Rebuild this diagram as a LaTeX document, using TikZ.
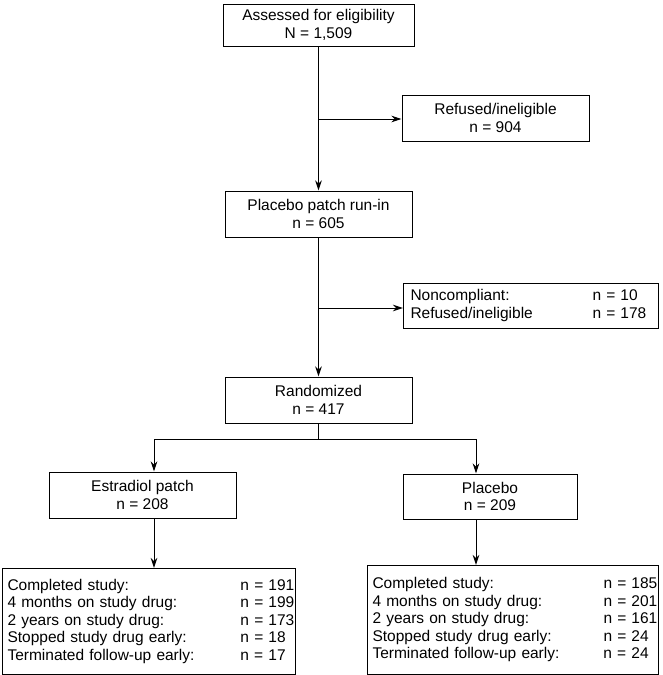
\documentclass[tikz,border=0pt]{standalone}
\usepackage{fontspec}
\setmainfont{Liberation Sans}
\usetikzlibrary{arrows.meta}
\begin{document}
\begin{tikzpicture}[x=1pt,y=-1pt,
  box/.style={draw, line width=1pt, inner sep=0pt, font=\fontsize{15.5}{17.5}\selectfont},
  cbox/.style={box, align=center},
  tbox/.style={box, align=left, anchor=north west},
  arr/.style={line width=1pt, -{Stealth[length=10pt,width=6.5pt]}},
  ln/.style={line width=1pt}]
\useasboundingbox (0,0) rectangle (663,675);
\node[cbox, minimum width=191pt, minimum height=42pt] (elig) at (318.5,25) {Assessed for eligibility\\N = 1,509};
\node[cbox, minimum width=187pt, minimum height=46pt] (ref) at (495.5,118) {Refused/ineligible\\n = 904};
\node[cbox, minimum width=187pt, minimum height=46pt] (run) at (318.5,214) {Placebo patch run-in\\n = 605};
\node[tbox, inner xsep=7pt, text width=241pt, minimum height=45pt] (nonc) at (403,283)
  {\begin{tabular}{@{}p{182pt}@{}l@{}}Noncompliant: & n = 10\\ Refused/ineligible & n = 178\end{tabular}};
\node[cbox, minimum width=187pt, minimum height=46pt] (rand) at (318.5,400) {Randomized\\n = 417};
\node[cbox, minimum width=187pt, minimum height=46pt] (estr) at (142.5,495) {Estradiol patch\\n = 208};
\node[cbox, minimum width=174pt, minimum height=45pt] (plac) at (490,496.5) {Placebo\\n = 209};
\node[tbox, inner xsep=5pt, text width=283pt, minimum height=106pt] (resL) at (2,568)
  {\begin{tabular}{@{}p{233pt}@{}l@{}}Completed study: & n = 191\\ 4 months on study drug: & n = 199\\ 2 years on study drug: & n = 173\\ Stopped study drug early: & n = 18\\ Terminated follow-up early: & n = 17\end{tabular}};
\node[tbox, inner xsep=5pt, text width=281pt, minimum height=109pt] (resR) at (367,565)
  {\begin{tabular}{@{}p{231pt}@{}l@{}}Completed study: & n = 185\\ 4 months on study drug: & n = 201\\ 2 years on study drug: & n = 161\\ Stopped study drug early: & n = 24\\ Terminated follow-up early: & n = 24\end{tabular}};
\coordinate (j1) at (318.5,119);
\coordinate (j2) at (318.5,308);
\coordinate (j3) at (318.5,439);
\coordinate (bl) at (154,439);
\coordinate (br) at (476,439);
\draw[arr] (elig.south) -- (run.north);
\draw[arr] (j1) -- (j1 -| ref.west);
\draw[arr] (run.south) -- (rand.north);
\draw[arr] (j2) -- (j2 -| nonc.west);
\draw[ln] (rand.south) -- (j3);
\draw[ln] (bl) -- (br);
\draw[arr] (bl) -- (bl |- estr.north);
\draw[arr] (br) -- (br |- plac.north);
\draw[arr] (bl |- estr.south) -- (bl |- resL.north);
\draw[arr] (br |- plac.south) -- (br |- resR.north);
\end{tikzpicture}
\end{document}
